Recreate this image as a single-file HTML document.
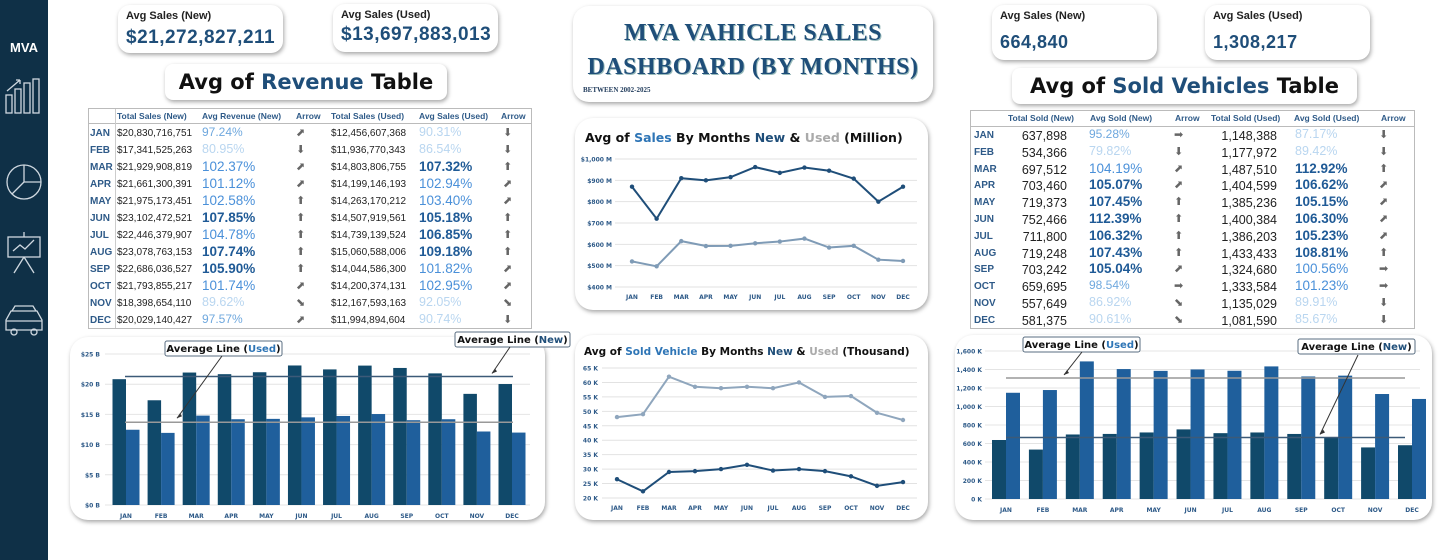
<!DOCTYPE html>
<html><head><meta charset="utf-8">
<style>
body{margin:0;width:1445px;height:560px;background:#fff;position:relative;overflow:hidden;font-family:"Liberation Sans","DejaVu Sans",sans-serif;}
.abs{position:absolute;}
.card{position:absolute;background:#fff;border-radius:12px;box-shadow:1px 2px 4px rgba(0,0,0,.35);}
.kl{position:absolute;left:8px;top:5px;font-size:11px;font-weight:bold;color:#222;}
.kv{position:absolute;left:8px;font-size:19px;font-weight:bold;color:#1f4e79;font-family:"Liberation Sans",sans-serif;letter-spacing:0.5px;}
.tt{position:absolute;font-family:"DejaVu Sans",sans-serif;font-weight:bold;font-size:21px;color:#111;text-align:center;}
.tbl{position:absolute;border:1px solid #bbb;background:#fff;}
.cell{position:absolute;white-space:nowrap;}
.hd{font-size:8.5px;font-weight:bold;color:#2e5a88;}
.mo{font-size:10px;font-weight:bold;color:#2e5a88;}
.num{font-size:10px;color:#222;}
.arr{font-size:11px;color:#666;font-family:"DejaVu Sans",sans-serif;}
svg text{font-family:"DejaVu Sans",sans-serif;}
</style></head><body>
<div class="abs" style="left:0;top:0;width:48px;height:560px;background:#0f3047;">
  <div class="abs" style="left:0;width:48px;top:40px;text-align:center;color:#fff;font-weight:bold;font-size:13px;">MVA</div>
  <svg class="abs" style="left:0;top:75px" width="48" height="280">
    <g stroke="#cfd8e0" fill="none" stroke-width="1.3">
      <g><rect x="6" y="20" width="6" height="18"/><rect x="15" y="14" width="6" height="24"/><rect x="24" y="8" width="6" height="30"/><rect x="33" y="4" width="6" height="34"/><path d="M7 16 L20 5 M20 5 l-4 0 M20 5 l0 4"/></g>
      <g><circle cx="24" cy="107" r="17"/><path d="M24 90 V107 H41 M24 107 L12 119"/></g>
      <g><rect x="8" y="162" width="32" height="20"/><path d="M24 157 v5 M24 182 L14 198 M24 182 L34 198 M13 176 l7 -6 l5 4 l9 -9"/></g>
      <g><path d="M6 255 v-10 l5 -9 h26 l5 9 v10 z M12 236 l3 -5 h18 l3 5"/><circle cx="14" cy="257" r="3"/><circle cx="34" cy="257" r="3"/><path d="M6 246 h36"/></g>
    </g>
  </svg>
</div>

<div class="card" style="left:118px;top:5px;width:165px;height:48px;"><div class="kl">Avg Sales (New)</div><div class="kv" style="top:22px;">$21,272,827,211</div></div>
<div class="card" style="left:333px;top:4px;width:165px;height:48px;"><div class="kl">Avg Sales (Used)</div><div class="kv" style="top:20px;">$13,697,883,013</div></div>
<div class="card" style="left:992px;top:5px;width:165px;height:55px;"><div class="kl">Avg Sales (New)</div><div class="kv" style="top:27px;font-size:18px;">664,840</div></div>
<div class="card" style="left:1205px;top:5px;width:165px;height:55px;"><div class="kl">Avg Sales (Used)</div><div class="kv" style="top:27px;font-size:18px;">1,308,217</div></div>

<div class="card tt" style="left:165px;top:64px;width:282px;height:36px;line-height:36px;border-radius:8px;">Avg of <span style="color:#1f4e79">Revenue</span> Table</div>
<div class="card tt" style="left:1012px;top:68px;width:345px;height:36px;line-height:36px;border-radius:8px;">Avg of <span style="color:#1f4e79">Sold Vehicles</span> Table</div>

<div class="card" style="left:573px;top:6px;width:360px;height:96px;border-radius:16px;">
  <div class="abs" style="left:0;width:360px;top:10px;text-align:center;font-family:'Liberation Serif',serif;font-weight:bold;font-size:24px;line-height:34px;color:#1f4e79;letter-spacing:0.5px;white-space:nowrap;text-shadow:1px 1px 0 #9bb;">MVA VAHICLE SALES<br>DASHBOARD (BY MONTHS)</div>
  <div class="abs" style="left:10px;top:80px;font-family:'Liberation Serif',serif;font-weight:bold;font-size:7px;color:#1f3a5a;">BETWEEN 2002-2025</div>
</div>

<div class="tbl" id="tblL" style="left:88px;top:108px;width:442px;height:219px;"></div>
<div class="tbl" id="tblR" style="left:970px;top:110px;width:443px;height:217px;"></div>

<div class="card" style="left:575px;top:118px;width:353px;height:192px;border-radius:18px;"></div>
<div class="card" style="left:575px;top:335px;width:353px;height:185px;border-radius:18px;"></div>
<div class="card" style="left:70px;top:337px;width:475px;height:183px;border-radius:18px;"></div>
<div class="card" style="left:955px;top:335px;width:477px;height:185px;border-radius:18px;"></div>

<svg id="chart" class="abs" style="left:0;top:0" width="1445" height="560"></svg>

<script>
const months=["JAN","FEB","MAR","APR","MAY","JUN","JUL","AUG","SEP","OCT","NOV","DEC"];
const totalSalesNew=["$20,830,716,751","$17,341,525,263","$21,929,908,819","$21,661,300,391","$21,975,173,451","$23,102,472,521","$22,446,379,907","$23,078,763,153","$22,686,036,527","$21,793,855,217","$18,398,654,110","$20,029,140,427"];
const avgRevNew=[97.24,80.95,102.37,101.12,102.58,107.85,104.78,107.74,105.90,101.74,89.62,97.57];
const arrowRevNew=["⬈","⬇","⬈","⬈","⬆","⬆","⬆","⬆","⬆","⬈","⬊","⬈"];
const totalSalesUsed=["$12,456,607,368","$11,936,770,343","$14,803,806,755","$14,199,146,193","$14,263,170,212","$14,507,919,561","$14,739,139,524","$15,060,588,006","$14,044,586,300","$14,200,374,131","$12,167,593,163","$11,994,894,604"];
const avgSalesUsed=[90.31,86.54,107.32,102.94,103.40,105.18,106.85,109.18,101.82,102.95,92.05,90.74];
const arrowSalesUsed=["⬇","⬇","⬆","⬈","⬈","⬆","⬆","⬆","⬈","⬈","⬊","⬇"];
const totalSoldNew=["637,898","534,366","697,512","703,460","719,373","752,466","711,800","719,248","703,242","659,695","557,649","581,375"];
const avgSoldNew=[95.28,79.82,104.19,105.07,107.45,112.39,106.32,107.43,105.04,98.54,86.92,90.61];
const arrowSoldNew=["➡","⬇","⬈","⬈","⬆","⬆","⬆","⬆","⬈","➡","⬊","⬊"];
const totalSoldUsed=["1,148,388","1,177,972","1,487,510","1,404,599","1,385,236","1,400,384","1,386,203","1,433,433","1,324,680","1,333,584","1,135,029","1,081,590"];
const avgSoldUsed=[87.17,89.42,112.92,106.62,105.15,106.30,105.23,108.81,100.56,101.23,89.91,85.67];
const arrowSoldUsed=["⬇","⬇","⬆","⬈","⬈","⬈","⬈","⬆","➡","➡","⬇","⬇"];
const salesNewM=[870,720,910,900,915,962,935,960,945,908,800,870];
const salesUsedM=[520,497,615,592,593,605,613,627,585,593,528,522];
const salesTicks=[400,500,600,700,800,900,1000];
const soldNewK=[26.5,22.3,29,29.3,30,31.5,29.5,30,29.3,27.5,24.2,25.5];
const soldUsedK=[48,49,62,58.5,58,58.5,58,60,55,55.3,49.5,47];
const soldTicks=[20,25,30,35,40,45,50,55,60,65];
const revNewB=[20.83,17.34,21.93,21.66,21.98,23.10,22.45,23.08,22.69,21.79,18.40,20.03];
const revUsedB=[12.46,11.94,14.80,14.20,14.26,14.51,14.74,15.06,14.04,14.20,12.17,11.99];
const revTicks=[0,5,10,15,20,25];
const revAvg=[21.27,13.70];
const soldNew=[637.9,534.4,697.5,703.5,719.4,752.5,711.8,719.2,703.2,659.7,557.6,581.4];
const soldUsed=[1148.4,1178.0,1487.5,1404.6,1385.2,1400.4,1386.2,1433.4,1324.7,1333.6,1135.0,1081.6];
const soldBarTicks=[0,200,400,600,800,1000,1200,1400,1600];
const soldAvg=[664.84,1308.22];

function pctStyle(v){
  if(v>=105) return "color:#1f5a96;font-size:13.5px;font-weight:bold;";
  if(v>=100) return "color:#4a90d9;font-size:13.5px;";
  if(v>=95) return "color:#6fa8de;font-size:12px;";
  return "color:#b9d6f0;font-size:12.5px;";
}
function mk(parent,cls,text,left,top,style,name){
  const d=document.createElement('div');
  d.className='cell '+cls;d.textContent=text;
  d.style.cssText=`left:${left}px;top:${top}px;`+(style||'');
  
  
  parent.appendChild(d);return d;
}
(function(){
  const L=document.getElementById('tblL');
  const hx=[28,113,207,242,330,412];
  const hs=["Total Sales (New)","Avg Revenue (New)","Arrow","Total Sales (Used)","Avg Sales (Used)","Arrow"];
  hs.forEach((h,i)=>mk(L,'hd',h,hx[i],2,'','table-header'));
  const hl=document.createElement('div');hl.style.cssText='position:absolute;left:0;top:14px;width:442px;height:1px;background:#bbb;';L.appendChild(hl);
  const vl=document.createElement('div');vl.style.cssText='position:absolute;left:26px;top:0;width:1px;height:219px;background:#ccc;';L.appendChild(vl);
  months.forEach((m,i)=>{
    const y=16+i*17;
    mk(L,'mo',m,1,y+3,'','month-label');
    mk(L,'num',totalSalesNew[i],28,y+3,'','total-sales-new');
    mk(L,'',avgRevNew[i].toFixed(2)+'%',113,y,pctStyle(avgRevNew[i]),'avg-revenue-new');
    mk(L,'arr',arrowRevNew[i],207,y+1,'','arrow-new');
    mk(L,'num',totalSalesUsed[i],242,y+3,'','total-sales-used');
    mk(L,'',avgSalesUsed[i].toFixed(2)+'%',330,y,pctStyle(avgSalesUsed[i]),'avg-sales-used');
    mk(L,'arr',arrowSalesUsed[i],414,y+1,'','arrow-used');
  });
  const R=document.getElementById('tblR');
  const rx=[37,119,204,240,323,410];
  ["Total Sold (New)","Avg Sold (New)","Arrow","Total Sold (Used)","Avg Sold (Used)","Arrow"].forEach((h,i)=>mk(R,'hd',h,rx[i],2,'','table-header'));
  const hl2=document.createElement('div');hl2.style.cssText='position:absolute;left:0;top:15px;width:443px;height:1px;background:#bbb;';R.appendChild(hl2);
  months.forEach((m,i)=>{
    const y=16+i*16.8;
    mk(R,'mo',m,3,y+3,'','month-label');
    mk(R,'num',totalSoldNew[i],0,y+2,'width:96px;text-align:right;font-size:12.5px;','total-sold-new');
    mk(R,'',avgSoldNew[i].toFixed(2)+'%',118,y,pctStyle(avgSoldNew[i]),'avg-sold-new');
    mk(R,'arr',arrowSoldNew[i],203,y+1,'','arrow-new');
    mk(R,'num',totalSoldUsed[i],200,y+2,'width:106px;text-align:right;font-size:12.5px;','total-sold-used');
    mk(R,'',avgSoldUsed[i].toFixed(2)+'%',324,y,pctStyle(avgSoldUsed[i]),'avg-sold-used');
    mk(R,'arr',arrowSoldUsed[i],408,y+1,'','arrow-used');
  });
})();

const S=document.getElementById('chart');
const NS='http://www.w3.org/2000/svg';
function el(tag,attrs,parent){const e=document.createElementNS(NS,tag);for(const k in attrs)e.setAttribute(k,attrs[k]);(parent||S).appendChild(e);return e;}
function txt(s,x,y,attrs,name){const t=el('text',Object.assign({x:x,y:y},attrs));t.textContent=s;return t;}

function axes(o){
  const sx=i=>o.x0+i*(o.x1-o.x0)/11;
  const sy=v=>o.yb-(v-o.vmin)/(o.vmax-o.vmin)*(o.yb-o.yt);
  o.ticks.forEach(t=>{
    const g=el('line',{x1:o.gx0,x2:o.gx1,y1:sy(t),y2:sy(t),stroke:'#e2e2e2','stroke-width':1});
    
    txt(o.fmt(t),o.lx,sy(t)+2.5,{'font-size':6,'font-weight':'bold',fill:'#2e5a88','text-anchor':'end'},'y-tick-label');
  });
  months.forEach((m,i)=>txt(m,sx(i),o.yb+12,{'font-size':6,'font-weight':'bold',fill:'#2e5a88','text-anchor':'middle'},'x-tick-label'));
  return {sx,sy};
}
function lineSeries(a,data,color,name){
  const pts=data.map((v,i)=>a.sx(i)+','+a.sy(v)).join(' ');
  const p=el('polyline',{points:pts,fill:'none',stroke:color,'stroke-width':2});
  
  
  data.forEach((v,i)=>{const c=el('circle',{cx:a.sx(i),cy:a.sy(v),r:2.2,fill:color});});
}
(function(){
  const t=txt('',585,142,{'font-size':12.5,'font-weight':'bold',fill:'#111'},'sales-chart-title');
  t.innerHTML='Avg of <tspan fill="#2e75b6">Sales</tspan> By Months <tspan fill="#1f4e79">New</tspan> &amp; <tspan fill="#aaa">Used</tspan> (Million)';
  const a=axes({x0:632,x1:903,yb:287,yt:159,vmin:400,vmax:1000,ticks:salesTicks,gx0:615,gx1:917,lx:612,fmt:v=>'$'+(v>=1000?'1,000':v)+' M'});
  lineSeries(a,salesNewM,'#1f4e79','sales-new-line');
  lineSeries(a,salesUsedM,'#7f9bb6','sales-used-line');
})();
(function(){
  const t=txt('',584,355,{'font-size':10.5,'font-weight':'bold',fill:'#111'},'sold-chart-title');
  t.innerHTML='Avg of <tspan fill="#2e75b6">Sold Vehicle</tspan> By Months <tspan fill="#1f4e79">New</tspan> &amp; <tspan fill="#aaa">Used</tspan> (Thousand)';
  const a=axes({x0:617,x1:903,yb:498,yt:368,vmin:20,vmax:65,ticks:soldTicks,gx0:602,gx1:917,lx:598,fmt:v=>v+' K'});
  lineSeries(a,soldNewK,'#1f4e79','sold-new-line');
  lineSeries(a,soldUsedK,'#8fa6bd','sold-used-line');
})();
function callout(label,color,bx,by,w,ax,ay,tx,ty,name){
  const r=el('rect',{x:bx,y:by,width:w,height:15,rx:2,fill:'#fff',stroke:'#5a6e82','stroke-width':1});
  
  
  const t=txt('',bx+w/2,by+11,{'font-size':10,'font-weight':'bold',fill:'#111','text-anchor':'middle'},name+'-text');
  t.innerHTML='Average Line (<tspan fill="'+color+'">'+label+'</tspan>)';
  const l=el('line',{x1:ax,y1:ay,x2:tx,y2:ty,stroke:'#333','stroke-width':1});
  
  el('path',{d:`M${tx} ${ty} l3 -5 l2 3 z`,fill:'#333'});
}
function barChart(o){
  const step=(o.x1-o.x0)/11;
  const sx=i=>o.x0+i*step;
  const sy=v=>o.yb-(v/o.vmax)*(o.yb-o.yt);
  o.ticks.forEach(t=>{
    const g=el('line',{x1:o.gx0,x2:o.gx1,y1:sy(t),y2:sy(t),stroke:'#e4e4e4','stroke-width':1});
    
    txt(o.fmt(t),o.lx,sy(t)+2.5,{'font-size':6,'font-weight':'bold',fill:'#2e5a88','text-anchor':'end'},'y-tick-label');
  });
  months.forEach((m,i)=>{
    txt(m,sx(i),o.yb+13,{'font-size':6,'font-weight':'bold',fill:'#2e5a88','text-anchor':'middle'},'x-tick-label');
    const b1=el('rect',{x:sx(i)-o.bw,y:sy(o.a[i]),width:o.bw,height:o.yb-sy(o.a[i]),fill:'#10496a'});
    
    
    const b2=el('rect',{x:sx(i),y:sy(o.b[i]),width:o.bw,height:o.yb-sy(o.b[i]),fill:'#1f5f9c'});
    
    
  });
  const l1=el('line',{x1:o.ax0,x2:o.ax1,y1:sy(o.avg[0]),y2:sy(o.avg[0]),stroke:'#3c5a78','stroke-width':1.5});
  
  const l2=el('line',{x1:o.ax0,x2:o.ax1,y1:sy(o.avg[1]),y2:sy(o.avg[1]),stroke:'#999','stroke-width':1.5});
  
  return sy;
}
(function(){
  const sy=barChart({x0:126,x1:512,yb:505,yt:354,vmax:25,bw:13.5,ticks:revTicks,gx0:105,gx1:530,lx:100,fmt:v=>'$'+v+' B',a:revNewB,b:revUsedB,avg:revAvg,ax0:125,ax1:513});
  callout('Used','#2e75b6',165,341,117,222,356,177,sy(revAvg[1])-4,'callout-average-used');
  callout('New','#1f4e79',455,332,115,510,347,492,sy(revAvg[0])-3,'callout-average-new');
})();
(function(){
  const sy=barChart({x0:1006,x1:1412,yb:499,yt:351,vmax:1600,bw:14,ticks:soldBarTicks,gx0:985,gx1:1420,lx:982,fmt:v=>(v>=1000?Math.floor(v/1000)+','+String(v%1000).padStart(3,'0'):v)+' K',a:soldNew,b:soldUsed,avg:soldAvg,ax0:1006,ax1:1405});
  callout('Used','#2e75b6',1023,337,117,1082,352,1064,sy(soldAvg[1])-3,'callout-average-used');
  callout('New','#1f4e79',1298,339,117,1358,355,1320,sy(soldAvg[0])-3,'callout-average-new');
})();
</script>
</body></html>
